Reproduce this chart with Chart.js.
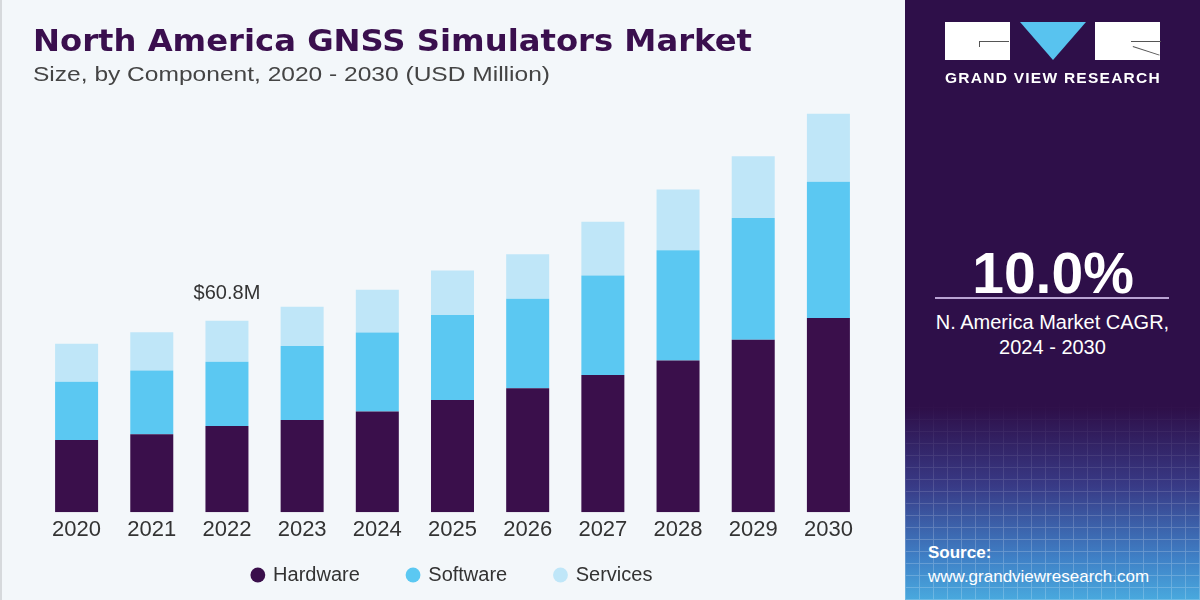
<!DOCTYPE html>
<html>
<head>
<meta charset="utf-8">
<script src="https://cdn.jsdelivr.net/npm/chart.js@4.4.1/dist/chart.umd.min.js"></script>
<style>
  html,body{margin:0;padding:0;}
  body{width:1200px;height:600px;position:relative;overflow:hidden;background:#f3f7fa;font-family:"Liberation Sans",Arial,sans-serif;}
  #left{position:absolute;left:0;top:0;width:905px;height:600px;background:#f3f7fa;border-left:2px solid #d6d9dc;box-sizing:border-box;}
  #chartWrap{position:absolute;left:0;top:0;width:905px;height:600px;}
  .fit{position:absolute;white-space:nowrap;transform-origin:0 0;}
  #title{left:33px;top:22px;font-family:"DejaVu Sans",sans-serif;font-weight:bold;font-size:31px;color:#3a0f4e;}
  #subtitle{left:33px;top:62px;font-size:21px;color:#444;}
  #right{position:absolute;left:905px;top:0;width:295px;height:600px;
    background:linear-gradient(180deg,#2e0f49 0%,#2e0f49 68%,#383a86 81%,#3f80c6 93%,#49a9de 100%);}
  #grid{position:absolute;left:0;top:400px;width:295px;height:200px;opacity:0.22;
    background-image:repeating-linear-gradient(90deg,rgba(255,255,255,0.9) 0 1px,transparent 1px 14px),
                     repeating-linear-gradient(0deg,rgba(255,255,255,0.9) 0 1px,transparent 1px 12px);
    -webkit-mask-image:linear-gradient(180deg,transparent 0%,#000 70%);mask-image:linear-gradient(180deg,transparent 0%,#000 70%);}
  .w{position:absolute;background:#fff;}
  #tri{position:absolute;left:115px;top:22px;width:0;height:0;border-left:33px solid transparent;border-right:33px solid transparent;border-top:38px solid #58c3ef;}
  #gvr{left:40px;top:69px;font-weight:bold;font-size:15px;color:#fff;letter-spacing:1.2px;}
  #cagr{top:240px;font-weight:bold;font-size:57px;color:#fff;}
  #line{position:absolute;left:30px;top:297px;width:234px;height:2px;background:#b9a3d3;}
  .cap{position:absolute;left:0;width:295px;text-align:center;color:#fff;font-size:20px;}
  #src1{left:23px;top:543px;font-weight:bold;font-size:17px;color:#fff;}
  #src2{left:23px;top:567px;font-size:17px;color:#fff;}
</style>
</head>
<body>
<div id="left"></div>
<div class="fit" id="title">North America GNSS Simulators Market</div>
<div class="fit" id="subtitle">Size, by Component, 2020 - 2030 (USD Million)</div>
<div id="chartWrap"><canvas id="c" width="905" height="600"></canvas></div>
<div id="right">
  <div id="grid"></div>
  <div class="w" style="left:40px;top:22px;width:65px;height:38px;"></div>
  <div style="position:absolute;left:74px;top:41px;width:30px;height:1px;background:#555;"></div>
  <div style="position:absolute;left:74px;top:41px;width:1px;height:6px;background:#555;"></div>
  <div id="tri"></div>
  <div class="w" style="left:190px;top:22px;width:65px;height:38px;"></div>
  <div style="position:absolute;left:226px;top:41px;width:30px;height:1px;background:#555;"></div>
  <div style="position:absolute;left:228px;top:46px;width:28px;height:1px;background:#555;transform:rotate(18deg);transform-origin:0 0;"></div>
  <div class="fit" id="gvr">GRAND VIEW RESEARCH</div>
  <div class="fit" id="cagr">10.0%</div>
  <div id="line"></div>
  <div class="cap" style="top:311px;">N. America Market CAGR,</div>
  <div class="cap" style="top:336px;">2024 - 2030</div>
  <div class="fit" id="src1">Source:</div>
  <div class="fit" id="src2">www.grandviewresearch.com</div>
</div>
<script>
// ---- data ----
const years = ["2020","2021","2022","2023","2024","2025","2026","2027","2028","2029","2030"];
const hardware = [23.0, 24.8, 27.4, 29.3, 32.0, 35.7, 39.4, 43.6, 48.2, 54.8, 61.7];
const software = [18.5, 20.2, 20.4, 23.5, 25.1, 27.0, 28.4, 31.6, 35.0, 38.7, 43.3];
const services = [12.0, 12.2, 13.0, 12.5, 13.6, 14.1, 14.2, 17.1, 19.3, 19.6, 21.6];
const seriesNames = ["Hardware","Software","Services"];
const annotatedYear = "2022";
const annotationText = "$60.8M";

// fit helpers for decorative text widths
function fitWidth(id, w){const el=document.getElementById(id);const r=el.getBoundingClientRect().width;el.style.transform='scaleX('+(w/r)+')';}
function centerIn(id, cx){const el=document.getElementById(id);const r=el.getBoundingClientRect().width;el.style.left=(cx-r/2)+'px';}
fitWidth('title',719);
fitWidth('subtitle',517);
fitWidth('gvr',216);
centerIn('cagr',148);

const LEGEND_PAD = 48;
const LEGEND_FONT = 20;
const LEGEND_CENTER_Y = 575;

const annotate = {
  id:'annotate',
  afterDatasetsDraw(chart){
    const idx = years.indexOf(annotatedYear);
    const meta = chart.getDatasetMeta(2);
    const bar = meta.data[idx];
    const ctx = chart.ctx;
    ctx.save();
    ctx.font = '20px "Liberation Sans", Arial, sans-serif';
    ctx.fillStyle = '#333';
    ctx.textAlign = 'center';
    ctx.textBaseline = 'alphabetic';
    ctx.fillText(annotationText, bar.x, bar.y - 22);
    ctx.restore();
  }
};
// move the legend row so its items sit at the wanted height
const legendShift = {
  id:'legendShift',
  afterLayout(chart){
    const lg = chart.legend;
    const d = LEGEND_CENTER_Y - (lg.top + LEGEND_PAD + LEGEND_FONT/2);
    lg.top += d;
    lg.bottom = chart.height;
    lg.height = lg.bottom - lg.top;
  }
};

new Chart(document.getElementById('c'), {
  type:'bar',
  data:{
    labels: years,
    datasets:[
      {label:seriesNames[0], data:hardware, backgroundColor:'#3a0f4b'},
      {label:seriesNames[1], data:software, backgroundColor:'#5bc8f2'},
      {label:seriesNames[2], data:services, backgroundColor:'#bfe6f8'}
    ]
  },
  options:{
    responsive:false,
    animation:false,
    layout:{padding:{left:39,right:39,top:103,bottom:0}},
    datasets:{bar:{barPercentage:0.572,categoryPercentage:1.0,borderWidth:0}},
    scales:{
      x:{stacked:true, grid:{display:false, drawTicks:false}, border:{display:false},
         ticks:{color:'#333', padding:4.5, font:{family:'"Liberation Sans", Arial, sans-serif', size:22}}},
      y:{stacked:true, display:false, min:0, max:130}
    },
    plugins:{
      legend:{position:'bottom', maxHeight:52.3,
        labels:{usePointStyle:true, pointStyle:'circle', boxWidth:10.5, boxHeight:10.5, padding:LEGEND_PAD, color:'#333',
        font:{family:'"Liberation Sans", Arial, sans-serif', size:LEGEND_FONT}}},
      tooltip:{enabled:false}
    }
  },
  plugins:[annotate, legendShift]
});
</script>
</body>
</html>
